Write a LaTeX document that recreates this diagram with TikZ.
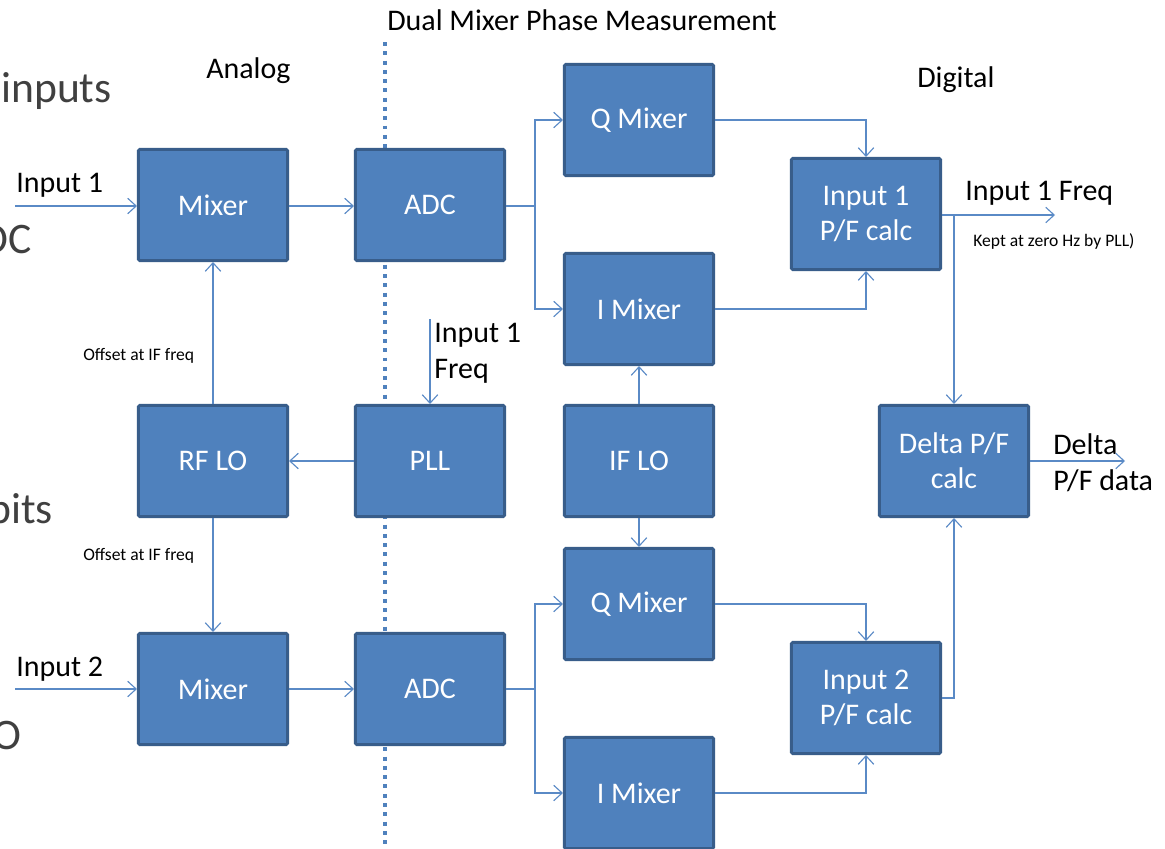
\documentclass[tikz,border=0pt]{standalone}
\usepackage{fontspec}
\setmainfont{Carlito}
\usetikzlibrary{arrows.meta}
\definecolor{boxfill}{RGB}{79,129,189}
\definecolor{boxline}{RGB}{56,93,138}
\definecolor{wirec}{RGB}{90,138,198}
\definecolor{graytext}{RGB}{64,64,64}
\begin{document}
\begin{tikzpicture}[x=0.025cm,y=-0.025cm,
 blk/.style={draw=boxline, fill=boxfill, line width=2pt, minimum width=3.73cm, minimum height=2.78cm, text=white, font=\fontsize{21.3}{25}\selectfont, align=center, inner sep=0pt, rounded corners=1pt},
 wire/.style={draw=wirec, line width=0.8pt},
 arr/.style={wire, -{Straight Barb[length=6pt,width=11pt]}},
 lbl/.style={font=\fontsize{21.3}{25}\selectfont, inner sep=0pt, anchor=base west, align=left},
 small/.style={font=\fontsize{12.5}{14}\selectfont, inner sep=0pt, anchor=base west},
 big/.style={font=\fontsize{31}{36}\selectfont, text=graytext, inner sep=0pt, anchor=base east},
 dotline/.style={draw=boxfill, line width=2.8pt, dash pattern=on 2.8pt off 3.8pt}]
\useasboundingbox (0,0) rectangle (1165,849);

% left cut-off text
\node[big] (tinputs) at (112,102) {inputs};
\node[big] (tdc) at (32,253) {DC};
\node[big] (tbits) at (53,523) {bits};
\node[big] (to) at (22,749) {O};

% dotted divider
\coordinate (dtop) at (385,42);
\coordinate (dbot) at (385,852);
\draw[dotline] (dtop) -- (dbot);

% blocks
\node[blk] (mix1) at (213,205) {Mixer};
\node[blk] (adc1) at (430,205) {ADC};
\node[blk] (qm1) at (639,120) {Q Mixer};
\node[blk] (im1) at (639,309) {I Mixer};
\node[blk] (pf1) at (866,214) {Input 1\\P/F calc};
\node[blk] (rflo) at (213,461) {RF LO};
\node[blk] (pll) at (430,461) {PLL};
\node[blk] (iflo) at (639,461) {IF LO};
\node[blk] (dpf) at (954,461) {Delta P/F\\calc};
\node[blk] (qm2) at (639,604) {Q Mixer};
\node[blk] (im2) at (639,793) {I Mixer};
\node[blk] (pf2) at (866,698) {Input 2\\P/F calc};
\node[blk] (mix2) at (213,689) {Mixer};
\node[blk] (adc2) at (430,689) {ADC};

% labels
\node[lbl] (ldual) at (387,30) {Dual Mixer Phase Measurement};
\node[lbl] (lanalog) at (206,78) {Analog};
\node[lbl] (ldigital) at (917,87) {Digital};
\node[lbl] (lin1) at (16,192) {Input 1};
\node[lbl] (lin2) at (16,676) {Input 2};
\node[lbl] (lin1f) at (965,200) {Input 1 Freq};
\node[small] (lkept) at (973,246) {Kept at zero Hz by PLL)};
\node[lbl] (lpllin) at (434,378) {Input 1\\Freq};
\node[lbl] (ldelta) at (1053,490) {Delta\\P/F data};
\node[small] (loff1) at (83,360) {Offset at IF freq};
\node[small] (loff2) at (83,560) {Offset at IF freq};

% connectors
\coordinate (in1) at (15,206);
\coordinate (in2) at (15,689);
\draw[arr] (in1) -- (in1 -| mix1.west);
\draw[arr] (in2) -- (in2 -| mix2.west);
\draw[arr] (mix1.east |- in1) -- (in1 -| adc1.west);
\draw[arr] (mix2.east |- in2) -- (in2 -| adc2.west);

\coordinate (br1) at (535,206);
\draw[wire] (adc1.east |- br1) -- (br1);
\draw[arr] (br1) |- (qm1.west);
\draw[arr] (br1) |- (im1.west);
\coordinate (br2) at (535,689);
\draw[wire] (adc2.east |- br2) -- (br2);
\draw[arr] (br2) |- (qm2.west);
\draw[arr] (br2) |- (im2.west);

\draw[arr] (qm1.east) -| (pf1.north);
\draw[arr] (im1.east) -| (pf1.south);
\draw[arr] (qm2.east) -| (pf2.north);
\draw[arr] (im2.east) -| (pf2.south);

\coordinate (out1) at (1055,215);
\coordinate (tap1) at (954,215);
\draw[arr] (pf1.east |- out1) -- (out1);
\draw[arr] (tap1) -- (dpf.north);
\draw[arr] (pf2.east) -| (dpf.south);
\coordinate (outd) at (1125,461);
\draw[arr] (dpf.east) -- (outd);

\draw[arr] (rflo.north) -- (mix1.south);
\draw[arr] (rflo.south) -- (mix2.north);
\draw[arr] (pll.west) -- (rflo.east);
\coordinate (pllin) at (430,319);
\draw[arr] (pllin) -- (pll.north);
\draw[arr] (iflo.north) -- (im1.south);
\draw[arr] (iflo.south) -- (qm2.north);
\end{tikzpicture}
\end{document}
